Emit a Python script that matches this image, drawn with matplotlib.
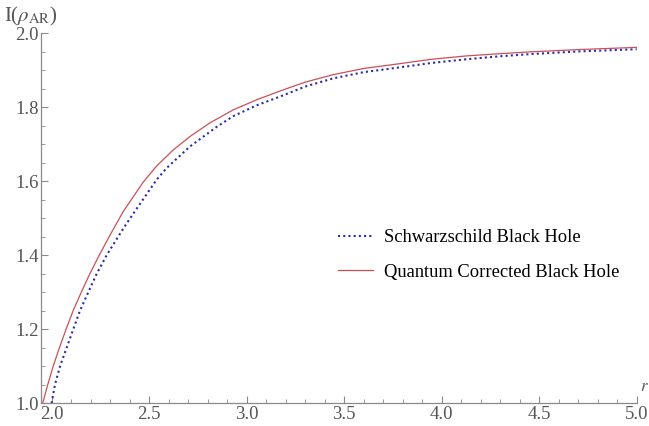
#!/usr/bin/python3
# I(rho_AR) vs r for Schwarzschild and quantum corrected black holes

import numpy as np
from matplotlib import pyplot as plt
from matplotlib.ticker import MultipleLocator

# values
r_schw = [2.000, 2.017, 2.043, 2.077, 2.111, 2.145, 2.188, 2.231, 2.282, 2.367,
          2.418, 2.538, 2.590, 2.709, 2.846, 2.931, 3.050, 3.171, 3.300, 3.442,
          3.600, 3.786, 3.950, 4.129, 4.300, 4.460, 4.700, 5.000]
I_schw = [1.000, 1.050, 1.100, 1.150, 1.200, 1.250, 1.300, 1.350, 1.400, 1.472,
          1.512, 1.604, 1.636, 1.694, 1.747, 1.776, 1.805, 1.829, 1.856, 1.878,
          1.895, 1.908, 1.920, 1.930, 1.938, 1.944, 1.951, 1.957]

r_qc = [1.954, 1.980, 2.008, 2.040, 2.074, 2.110, 2.152, 2.196, 2.244, 2.300,
        2.367, 2.470, 2.538, 2.620, 2.709, 2.812, 2.931, 3.050, 3.171, 3.300,
        3.442, 3.600, 3.786, 3.950, 4.129, 4.300, 4.460, 4.700, 5.000]
I_qc = [1.000, 1.050, 1.100, 1.150, 1.200, 1.250, 1.300, 1.350, 1.400, 1.455,
        1.518, 1.598, 1.641, 1.683, 1.721, 1.758, 1.793, 1.820, 1.844, 1.868,
        1.888, 1.905, 1.918, 1.930, 1.939, 1.945, 1.950, 1.956, 1.962]

labels = ['Schwarzschild Black Hole', 'Quantum Corrected Black Hole']

plt.rcParams['font.family'] = ['Liberation Serif', 'DejaVu Serif']
plt.rcParams['mathtext.fontset'] = 'stix'

fig = plt.figure(figsize=(6.49, 4.26), dpi=100)
ax = fig.add_axes([0.0639, 0.0533, 0.9171, 0.8685])

ax.plot(r_schw, I_schw, color='#2b2bb0', ls=(0, (1, 1.5)), lw=1.5, label=labels[0])
ax.plot(r_qc, I_qc, color='#cc4f58', lw=0.9, label=labels[1])

ax.set_xlim(1.948, 5.0)
ax.set_ylim(1.0, 2.0)

ax.xaxis.set_major_locator(MultipleLocator(0.5))
ax.xaxis.set_minor_locator(MultipleLocator(0.1))
ax.yaxis.set_major_locator(MultipleLocator(0.2))
ax.yaxis.set_minor_locator(MultipleLocator(0.05))
ax.xaxis.set_major_formatter(lambda v, p: f'{v:.1f}')
ax.yaxis.set_major_formatter(lambda v, p: f'{v:.1f}')

for s in ['top', 'right']:
    ax.spines[s].set_visible(False)
for s in ['left', 'bottom']:
    ax.spines[s].set_color('#8a8a8a')
    ax.spines[s].set_linewidth(0.9)

ax.tick_params(which='both', direction='in', color='#8a8a8a', labelcolor='#555555',
               labelsize=13.5)
ax.tick_params(which='major', length=5, width=0.8)
ax.tick_params(which='minor', length=3, width=0.6)
ax.tick_params(axis='x', pad=2)
ax.tick_params(axis='y', pad=2)

fig.text(4/649, 1 - 16/426, r'I($\rho_{\rm AR}$)', fontsize=15, color='#555555',
         va='center', ha='left')
fig.text(640/649, 1 - 387/426, r'$r$', fontsize=12, color='#555555',
         va='center', ha='left')

leg = ax.legend(loc='upper left', bbox_to_anchor=(0.47, 0.515), frameon=False,
                fontsize=13.3, handlelength=1.9, handletextpad=0.6, labelspacing=0.95)

fig.savefig('out.png', dpi=100)
